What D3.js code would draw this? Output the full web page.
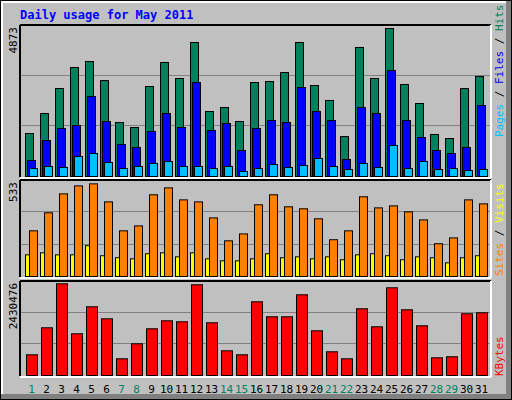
<!DOCTYPE html>
<html><head><meta charset="utf-8">
<script src="https://cdn.jsdelivr.net/npm/d3@7"></script>
<style>body{margin:0;background:#fff}svg{display:block}text{font-family:"DejaVu Sans Mono",monospace}</style>
</head><body><svg id="c" width="512" height="400"></svg>
<script>
const days = d3.range(1, 32);
const weekend = [1,7,8,14,15,21,22,28,29];
const hits = [1379,2020,2821,3494,3687,3078,1731,1571,2885,3655,3142,4296,2084,2212,1763,3013,3046,3334,4296,2917,2437,1282,4136,3142,4745,2950,2340,1347,1218,2821,3206];
const files = [513,1154,1539,1635,2565,1763,1026,930,1443,2020,1571,3013,1475,1699,834,1539,1795,1731,2853,2084,1795,545,2212,2020,3398,1795,1250,834,737,930,2276];
const pages = [256,321,289,641,737,449,256,321,417,481,321,321,256,321,160,256,385,289,353,577,321,224,417,289,994,256,481,224,256,192,224];
const sites = [251,350,454,498,509,410,251,278,449,487,421,410,322,196,234,394,449,383,372,317,202,251,438,377,388,355,311,180,212,421,399];
const visits = [119,130,119,119,169,114,103,97,125,130,108,130,97,86,86,97,125,103,108,97,108,92,119,125,114,92,108,103,75,103,114];
const kbytes = [529600,1220400,2346100,1066900,1757600,1450600,427300,811000,1194800,1399400,1373900,2320500,1348300,631900,529600,1885500,1501800,1501800,2064600,1143600,606300,427300,1706500,1245900,2243700,1680900,1271500,452800,478400,1578500,1604100];
const maxHits = 4873, maxSites = 533, maxKB = 2430476;

const svg = d3.select("#c");
// frame
svg.append("rect").attr("x",0).attr("y",0).attr("width",512).attr("height",400).attr("fill","#000");
svg.append("rect").attr("x",1).attr("y",1).attr("width",510).attr("height",398).attr("fill","#808080");
svg.append("rect").attr("x",1).attr("y",1).attr("width",505).attr("height",393).attr("fill","#fff");
svg.append("rect").attr("x",3).attr("y",3).attr("width",503).attr("height",391).attr("fill","#c0c0c0");

svg.append("text").attr("x",20).attr("y",19).attr("fill","#0000ff").attr("font-weight","bold").attr("font-size",12).text("Daily usage for May 2011");

const x = d3.scaleLinear().domain([1,32]).range([25,490]);
const L=20,R=491;
function panel(top,bottom){
  svg.append("rect").attr("x",L).attr("y",top).attr("width",R-L).attr("height",bottom-top).attr("fill","#c0c0c0");
  svg.append("line").attr("x1",L).attr("x2",R).attr("y1",top).attr("y2",top).attr("stroke","#000").attr("stroke-width",2);
  svg.append("line").attr("x1",L).attr("x2",L).attr("y1",top).attr("y2",bottom).attr("stroke","#000").attr("stroke-width",2);
  svg.append("line").attr("x1",R).attr("x2",R).attr("y1",top).attr("y2",bottom+1).attr("stroke","#fff").attr("stroke-width",2);
  svg.append("line").attr("x1",L).attr("x2",R).attr("y1",bottom+1).attr("y2",bottom+1).attr("stroke","#fff").attr("stroke-width",2);
}
function grid(y,max){
  [max/3,2*max/3].forEach(v=>svg.append("line").attr("x1",L+1).attr("x2",R-1).attr("y1",Math.round(y(v))+0.5).attr("y2",Math.round(y(v))+0.5).attr("stroke","#808080"));
}
function bars(data,y,off,w,color){
  svg.append("g").selectAll("rect").data(data).join("rect")
    .attr("x",(d,i)=>x(days[i])+off+0.5).attr("width",w)
    .attr("y",d=>y(d)+0.5).attr("height",d=>y(0)-y(d))
    .attr("fill",color).attr("stroke","#000").attr("stroke-width",1);
}
function leftLabel(txt,yTop){
  svg.append("text").attr("transform",`translate(17,${yTop}) rotate(-90)`).attr("text-anchor","end").attr("font-size",11).attr("fill","#000").text(txt);
}
function rightLabel(parts,yBottom){
  const t=svg.append("text").attr("transform",`translate(503,${yBottom}) rotate(-90)`).attr("font-size",11);
  parts.forEach(p=>t.append("tspan").attr("fill",p[1]).text(p[0]));
}

// top panel
panel(25,177);
const y1 = d3.scaleLinear().domain([0,maxHits]).range([176,24]);
grid(y1,maxHits);
bars(hits,y1,0,8,"#00805c");
bars(files,y1,2,8,"#0000ff");
bars(pages,y1,4,8,"#00c0ff");
leftLabel(String(maxHits),27);
rightLabel([["Pages","#00c0ff"],[" / ","#000"],["Files","#0000ff"],[" / ","#000"],["Hits","#00805c"]],137);

// middle
panel(180,277);
const y2 = d3.scaleLinear().domain([0,maxSites]).range([276,179]);
grid(y2,maxSites);
bars(visits,y2,0,4,"#ffff00");
bars(sites,y2,4,8,"#ff8000");
leftLabel(String(maxSites),182);
rightLabel([["Sites","#ff8000"],[" / ","#000"],["Visits","#ffff00"]],276);

// bottom
panel(281,376);
const y3 = d3.scaleLinear().domain([0,maxKB]).range([375,280]);
grid(y3,maxKB);
bars(kbytes,y3,1,11,"#ff0000");
leftLabel(String(maxKB),283);
rightLabel([["KBytes","#ff0000"]],376);

// day labels
svg.append("g").selectAll("text").data(days).join("text")
  .attr("x",d=>x(d)+6.5).attr("y",393).attr("text-anchor","middle").attr("font-size",11)
  .attr("fill",d=>weekend.includes(d)?"#00805c":"#000").text(d=>d);
</script></body></html>
